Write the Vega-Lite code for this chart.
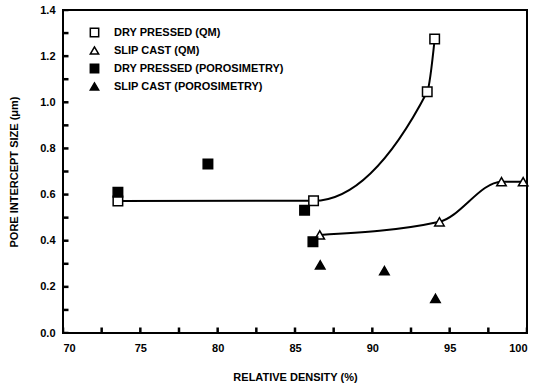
{
  "$schema": "https://vega.github.io/schema/vega-lite/v6.json",
  "width": 464,
  "height": 323,
  "autosize": {"type": "none"},
  "padding": {"left": 63, "top": 10, "right": 9, "bottom": 54},
  "background": "white",
  "config": {
    "view": {"stroke": "black", "strokeWidth": 2},
    "font": "Liberation Sans",
    "axis": {
      "domain": false, "ticks": false,
      "grid": false, "zindex": 2, "labelFont": "Liberation Sans", "labelFontWeight": "bold",
      "labelFontSize": 11, "labelColor": "black", "titleFont": "Liberation Sans",
      "titleFontWeight": "bold", "titleFontSize": 11, "titleColor": "black"
    },
    "legend": {
      "labelFont": "Liberation Sans", "labelFontWeight": "bold", "labelFontSize": 11,
      "labelColor": "black", "labelLimit": 300
    }
  },
  "layer": [
    {
      "data": {"values": [{"t": 70}, {"t": 72.5}, {"t": 75}, {"t": 77.5}, {"t": 80}, {"t": 82.5}, {"t": 85}, {"t": 87.5}, {"t": 90}, {"t": 92.5}, {"t": 95}, {"t": 97.5}, {"t": 100}]},
      "mark": {"type": "tick", "orient": "vertical", "size": 11, "thickness": 2.5, "color": "black", "opacity": 1, "clip": true},
      "encoding": {
        "x": {"field": "t", "type": "quantitative", "title": "RELATIVE DENSITY (%)"},
        "y": {"datum": 0, "type": "quantitative", "title": "PORE INTERCEPT SIZE (μm)"}
      }
    },
    {
      "data": {"values": [{"t": 0}, {"t": 0.1}, {"t": 0.2}, {"t": 0.3}, {"t": 0.4}, {"t": 0.5}, {"t": 0.6}, {"t": 0.7}, {"t": 0.8}, {"t": 0.9}, {"t": 1.0}, {"t": 1.1}, {"t": 1.2}, {"t": 1.3}, {"t": 1.4}]},
      "mark": {"type": "tick", "orient": "horizontal", "size": 11, "thickness": 2.5, "color": "black", "opacity": 1, "clip": true},
      "encoding": {
        "x": {"datum": 70, "type": "quantitative", "title": "RELATIVE DENSITY (%)"},
        "y": {"field": "t", "type": "quantitative", "title": "PORE INTERCEPT SIZE (μm)"}
      }
    },
    {
      "data": {"name": "points", "values": [
        {"series": "DRY PRESSED (QM)", "density": 73.55, "size": 0.572},
        {"series": "DRY PRESSED (QM)", "density": 86.2, "size": 0.573},
        {"series": "DRY PRESSED (QM)", "density": 93.55, "size": 1.046},
        {"series": "DRY PRESSED (QM)", "density": 94.03, "size": 1.274},
        {"series": "SLIP CAST (QM)", "density": 86.6, "size": 0.425},
        {"series": "SLIP CAST (QM)", "density": 94.34, "size": 0.482},
        {"series": "SLIP CAST (QM)", "density": 98.35, "size": 0.656},
        {"series": "SLIP CAST (QM)", "density": 99.75, "size": 0.656},
        {"series": "DRY PRESSED (POROSIMETRY)", "density": 73.55, "size": 0.61},
        {"series": "DRY PRESSED (POROSIMETRY)", "density": 79.37, "size": 0.733},
        {"series": "DRY PRESSED (POROSIMETRY)", "density": 85.62, "size": 0.532},
        {"series": "DRY PRESSED (POROSIMETRY)", "density": 86.16, "size": 0.396},
        {"series": "SLIP CAST (POROSIMETRY)", "density": 86.63, "size": 0.295},
        {"series": "SLIP CAST (POROSIMETRY)", "density": 90.78, "size": 0.27},
        {"series": "SLIP CAST (POROSIMETRY)", "density": 94.08, "size": 0.15}
      ]},
      "layer": [
        {
          "transform": [{"filter": "indexof(datum.series, '(QM)') >= 0"}],
          "mark": {"type": "line", "interpolate": "monotone", "color": "black", "strokeWidth": 2},
          "encoding": {
            "x": {"field": "density", "type": "quantitative", "title": "RELATIVE DENSITY (%)"},
            "y": {"field": "size", "type": "quantitative", "title": "PORE INTERCEPT SIZE (μm)"},
            "detail": {"field": "series"}
          }
        },
        {
          "mark": {"type": "point", "filled": true, "strokeWidth": 1.5, "size": 90, "opacity": 1},
          "encoding": {
            "x": {
              "field": "density", "type": "quantitative",
              "scale": {"domain": [70, 100], "nice": false, "zero": false},
              "title": "RELATIVE DENSITY (%)",
              "axis": {
                "values": [70, 75, 80, 85, 90, 95, 100],
                "labelPadding": 9, "titlePadding": 18
              }
            },
            "y": {
              "field": "size", "type": "quantitative",
              "scale": {"domain": [0, 1.4], "nice": false},
              "title": "PORE INTERCEPT SIZE (μm)",
              "axis": {
                "values": [0, 0.2, 0.4, 0.6, 0.8, 1.0, 1.2, 1.4],
                "format": ".1f",
                "labelPadding": 8, "titlePadding": 20
              }
            },
            "stroke": {
              "field": "series", "type": "nominal",
              "scale": {
                "domain": ["DRY PRESSED (QM)", "SLIP CAST (QM)", "DRY PRESSED (POROSIMETRY)", "SLIP CAST (POROSIMETRY)"],
                "range": ["black", "black", "black", "black"]
              },
              "legend": {
                "title": null, "orient": "none", "legendX": 26, "legendY": 17, "labelOffset": 14, "rowPadding": 3, "symbolSize": 70, "symbolStrokeWidth": 1.5, "labelLimit": 300
              }
            },
            "shape": {
              "field": "series", "type": "nominal",
              "scale": {
                "domain": ["DRY PRESSED (QM)", "SLIP CAST (QM)", "DRY PRESSED (POROSIMETRY)", "SLIP CAST (POROSIMETRY)"],
                "range": ["square", "triangle-up", "square", "triangle-up"]
              },
              "legend": {
                "title": null, "orient": "none", "legendX": 26, "legendY": 17, "labelOffset": 14, "rowPadding": 3, "symbolSize": 70, "symbolStrokeWidth": 1.5, "labelLimit": 300
              }
            },
            "fill": {
              "field": "series", "type": "nominal",
              "scale": {
                "domain": ["DRY PRESSED (QM)", "SLIP CAST (QM)", "DRY PRESSED (POROSIMETRY)", "SLIP CAST (POROSIMETRY)"],
                "range": ["white", "white", "black", "black"]
              },
              "legend": {
                "title": null, "orient": "none", "legendX": 26, "legendY": 17, "labelOffset": 14, "rowPadding": 3, "symbolSize": 70, "symbolStrokeWidth": 1.5, "labelLimit": 300
              }
            }
          }
        }
      ]
    }
  ]
}
